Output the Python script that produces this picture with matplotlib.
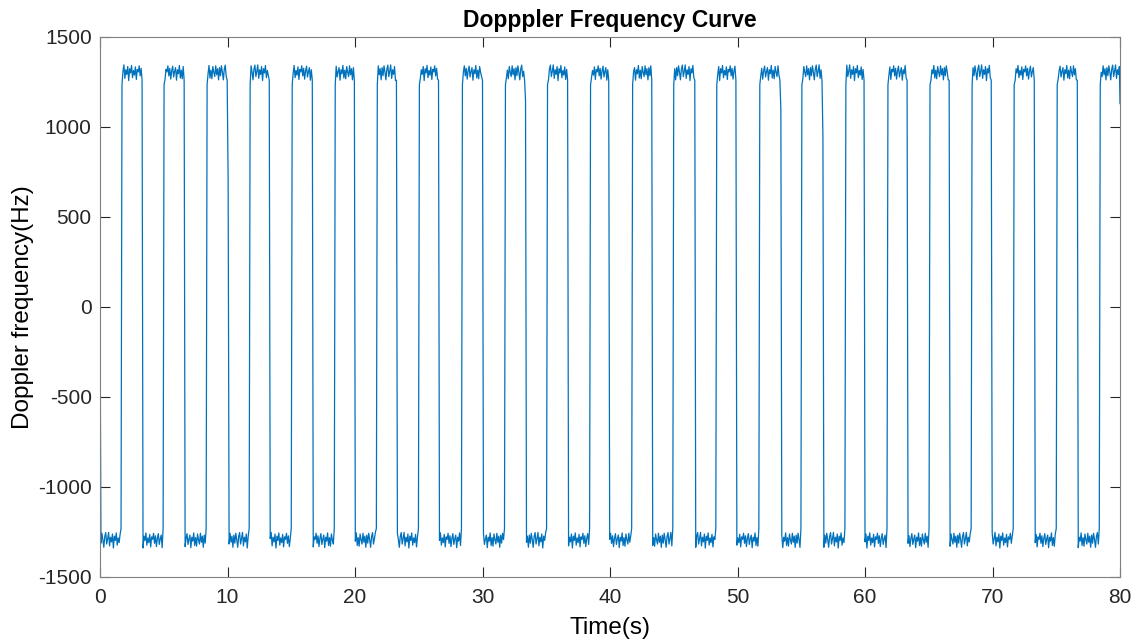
import numpy as np
import matplotlib
matplotlib.use("Agg")
import matplotlib.pyplot as plt

# edge times (seconds)
rise_times = [1.70, 5.02, 8.39, 11.71, 15.04, 18.38, 21.70, 25.04, 28.36, 31.74,
              35.03, 38.43, 41.70, 45.00, 48.37, 51.74, 55.03, 58.43, 61.75, 65.04,
              68.37, 71.69, 75.03, 78.38]
fall_times = [3.35, 6.61, 10.02, 13.28, 16.68, 19.97, 23.32, 26.61, 30.01, 33.33,
              36.68, 39.95, 43.32, 46.67, 49.94, 53.33, 56.65, 60.00, 63.35, 66.67,
              69.96, 73.33, 76.68]
# falling edges that pass through an intermediate sample (Hz)
slow_falls = {10.02: 700, 33.33: 1150, 53.33: 1100, 56.65: 950}

high_level = 1300
low_level = -1297
high_start = 1235     # first sample of a high plateau
low_end = -1230       # last sample of a low plateau
start_value = 0
end_value = 1130

# plateau ripple (Hz)
ripple = [30, -15, 40, 5, -38, 22, 44, -20, 10, 45, -30, 18, -8, 36, -42, 24,
          0, 42, -26, 14, -12, 34, -36, 20, 6, 40, -16, 26, -34, 12, 38, -22,
          8, 30, -40, 18, -4, 42, -28, 16, -32, 36, 4, -20, 40, -10, 24, -38]

dt = 0.075
t = np.arange(0, 80 + dt / 2, dt)
t[-1] = 80.0
y = np.zeros_like(t)

bounds = [0.0]
for i, r in enumerate(rise_times):
    bounds.append(r)
    if i < len(fall_times):
        bounds.append(fall_times[i])
bounds.append(80.0 + dt)

rip = np.array(ripple)
for k in range(len(bounds) - 1):
    idx = np.where((t >= bounds[k]) & (t < bounds[k + 1]))[0]
    if len(idx) == 0:
        continue
    is_high = k % 2 == 1
    base = high_level if is_high else low_level
    seg = base + rip[(7 * k + np.arange(len(idx))) % len(rip)]
    if is_high:
        seg[0] = high_start
        seg[-1] = min(seg[-1], 1260)
    else:
        seg[-1] = low_end
        if bounds[k] in slow_falls:
            seg[0] = slow_falls[bounds[k]]
    y[idx] = seg
y[0] = start_value
y[-1] = end_value

plt.rcParams['font.family'] = ['Liberation Sans', 'DejaVu Sans']
plt.rcParams['axes.unicode_minus'] = False

fig = plt.figure(figsize=(11.38, 6.43), dpi=100)
ax = fig.add_axes([100 / 1138, 1 - 577 / 643, 1020 / 1138, 540 / 643])
ax.plot(t, y, color='#0072BD', linewidth=0.9)

ax.set_xlim(0, 80)
ax.set_ylim(-1500, 1500)
ax.set_xticks(np.arange(0, 81, 10))
ax.set_yticks(np.arange(-1500, 1501, 500))
ax.tick_params(direction='in', length=7, width=0.8, colors='#262626',
               labelsize=15, top=True, right=True)
ax.tick_params(axis='x', pad=8)
ax.tick_params(axis='y', pad=6)
for s in ax.spines.values():
    s.set_color('#808080')
    s.set_linewidth(0.8)

ax.set_title('Dopppler Frequency Curve', fontsize=16.5, fontweight='bold', pad=7)
ax.set_xlabel('Time(s)', fontsize=17.5, labelpad=7)
ax.set_ylabel('Doppler frequency(Hz)', fontsize=17.5, labelpad=3)

fig.savefig('out.png', dpi=100)
